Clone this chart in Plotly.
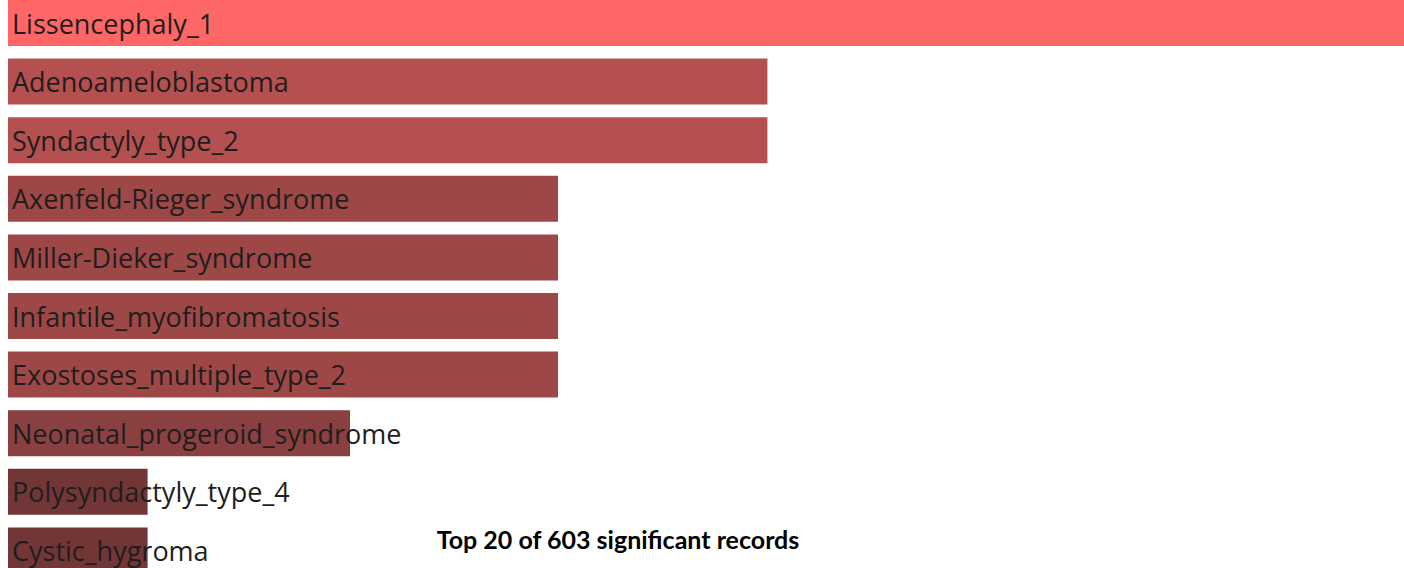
import plotly.graph_objects as go

categories = [
    "Lissencephaly_1",
    "Adenoameloblastoma",
    "Syndactyly_type_2",
    "Axenfeld-Rieger_syndrome",
    "Miller-Dieker_syndrome",
    "Infantile_myofibromatosis",
    "Exostoses_multiple_type_2",
    "Neonatal_progeroid_syndrome",
    "Polysyndactyly_type_4",
    "Cystic_hygroma",
]
values = [10.0, 5.44, 5.44, 3.94, 3.94, 3.94, 3.94, 2.45, 1.0, 1.0]
bar_colors = [
    "#FF6666", "#B55050", "#B55050", "#9E4747", "#9E4747",
    "#9E4747", "#9E4747", "#8A4040", "#733636", "#733636",
]
title_text = "Top 20 of 603 significant records"

W, H = 1404, 568

fig = go.Figure()
fig.add_trace(go.Bar(
    x=values,
    y=categories,
    orientation="h",
    marker=dict(color=bar_colors, line=dict(width=0)),
    hoverinfo="x+y",
))

for c in categories:
    fig.add_annotation(
        x=0, y=c, xref="x", yref="y",
        text=c, showarrow=False,
        xanchor="left", yanchor="middle", xshift=2,
        font=dict(family="Open Sans", size=27, color="#1e1e1e"),
    )

pitch = 58.6
top_center = 23.0
r_top = -top_center / pitch
r_bot = r_top + H / pitch

fig.update_layout(
    width=W, height=H,
    margin=dict(l=8, r=0, t=0, b=0),
    paper_bgcolor="white",
    plot_bgcolor="white",
    bargap=0.215,
    showlegend=False,
    title=dict(
        text=title_text,
        x=618 / W, y=1 - 540 / H,
        xref="container", yref="container",
        xanchor="center", yanchor="middle",
        font=dict(family="Lato", size=25, color="#000000", weight="bold"),
    ),
    xaxis=dict(range=[0, max(values)], visible=False, fixedrange=True),
    yaxis=dict(
        type="category",
        categoryorder="array",
        categoryarray=categories,
        range=[r_bot, r_top],
        visible=False,
        fixedrange=True,
    ),
)

fig.write_html(
    "out.html",
    config={"displayModeBar": False},
    post_script="document.body.style.margin='0';document.body.style.overflow='hidden';",
)
